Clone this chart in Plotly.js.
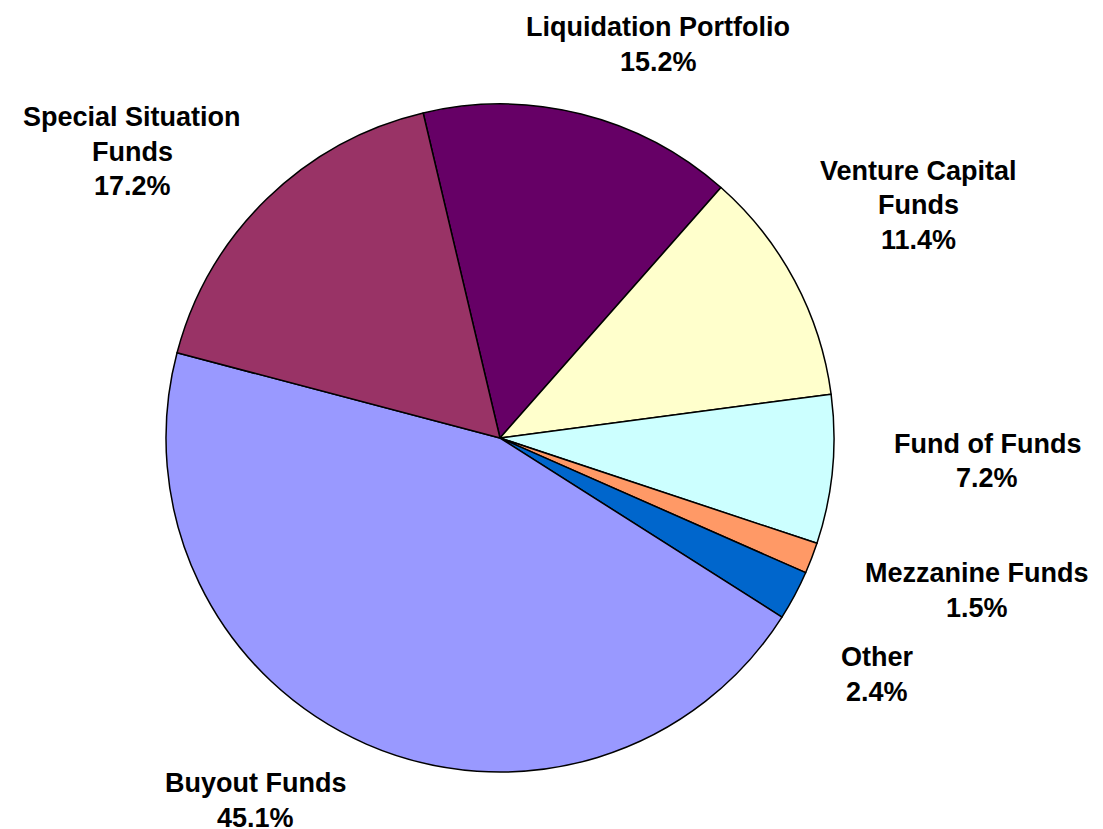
<!DOCTYPE html>
<html>
<head>
<meta charset="utf-8">
<script src="https://cdn.plot.ly/plotly-3.0.1.min.js"></script>
<style>html,body{margin:0;padding:0;background:#fff;}#chart{width:1103px;height:829px;}</style>
</head>
<body>
<div id="chart"></div>
<script>
// Data
const categories = ["Liquidation Portfolio", "Venture Capital Funds", "Fund of Funds", "Mezzanine Funds", "Other", "Buyout Funds", "Special Situation Funds"];
const values = [15.2, 11.4, 7.2, 1.5, 2.4, 45.1, 17.2];
const labelLines = [["Liquidation Portfolio"], ["Venture Capital", "Funds"], ["Fund of Funds"], ["Mezzanine Funds"], ["Other"], ["Buyout Funds"], ["Special Situation", "Funds"]];
const colors = ["#660066", "#FFFFCC", "#CCFFFF", "#FF9966", "#0066CC", "#9999FF", "#993366"];

// Layout helpers (pixel positions of label blocks: first line center)
const W = 1103, H = 829;
const labelPos = [[658, 27], [918, 171], [987, 444], [977, 573], [877, 657], [255, 783], [132, 117]];
const lineH = 34.5;
const cx = 500, cy = 438, r = 334;

const annotations = [];
categories.forEach((c, i) => {
  const lines = labelLines[i].concat([values[i].toFixed(1) + "%"]);
  lines.forEach((t, j) => {
    annotations.push({
      text: t, showarrow: false, xref: "paper", yref: "paper",
      x: labelPos[i][0] / W, y: 1 - (labelPos[i][1] + j * lineH) / H,
      xanchor: "center", yanchor: "middle",
      font: {family: "Liberation Sans, Arial, sans-serif", size: 27, weight: "bold", color: "#000"}
    });
  });
});

const trace = {
  type: "pie", labels: categories, values: values, sort: false,
  direction: "clockwise", rotation: -13.3,
  marker: {colors: colors, line: {color: "#000", width: 1.5}},
  textinfo: "none", hoverinfo: "label+percent", showlegend: false,
  domain: {x: [(cx - r) / W, (cx + r) / W], y: [1 - (cy + r) / H, 1 - (cy - r) / H]}
};

const layout = {
  width: W, height: H, margin: {l: 0, r: 0, t: 0, b: 0},
  paper_bgcolor: "#fff", plot_bgcolor: "#fff", showlegend: false,
  annotations: annotations
};
Plotly.newPlot("chart", [trace], layout, {displayModeBar: false, staticPlot: true});
</script>
</body>
</html>
